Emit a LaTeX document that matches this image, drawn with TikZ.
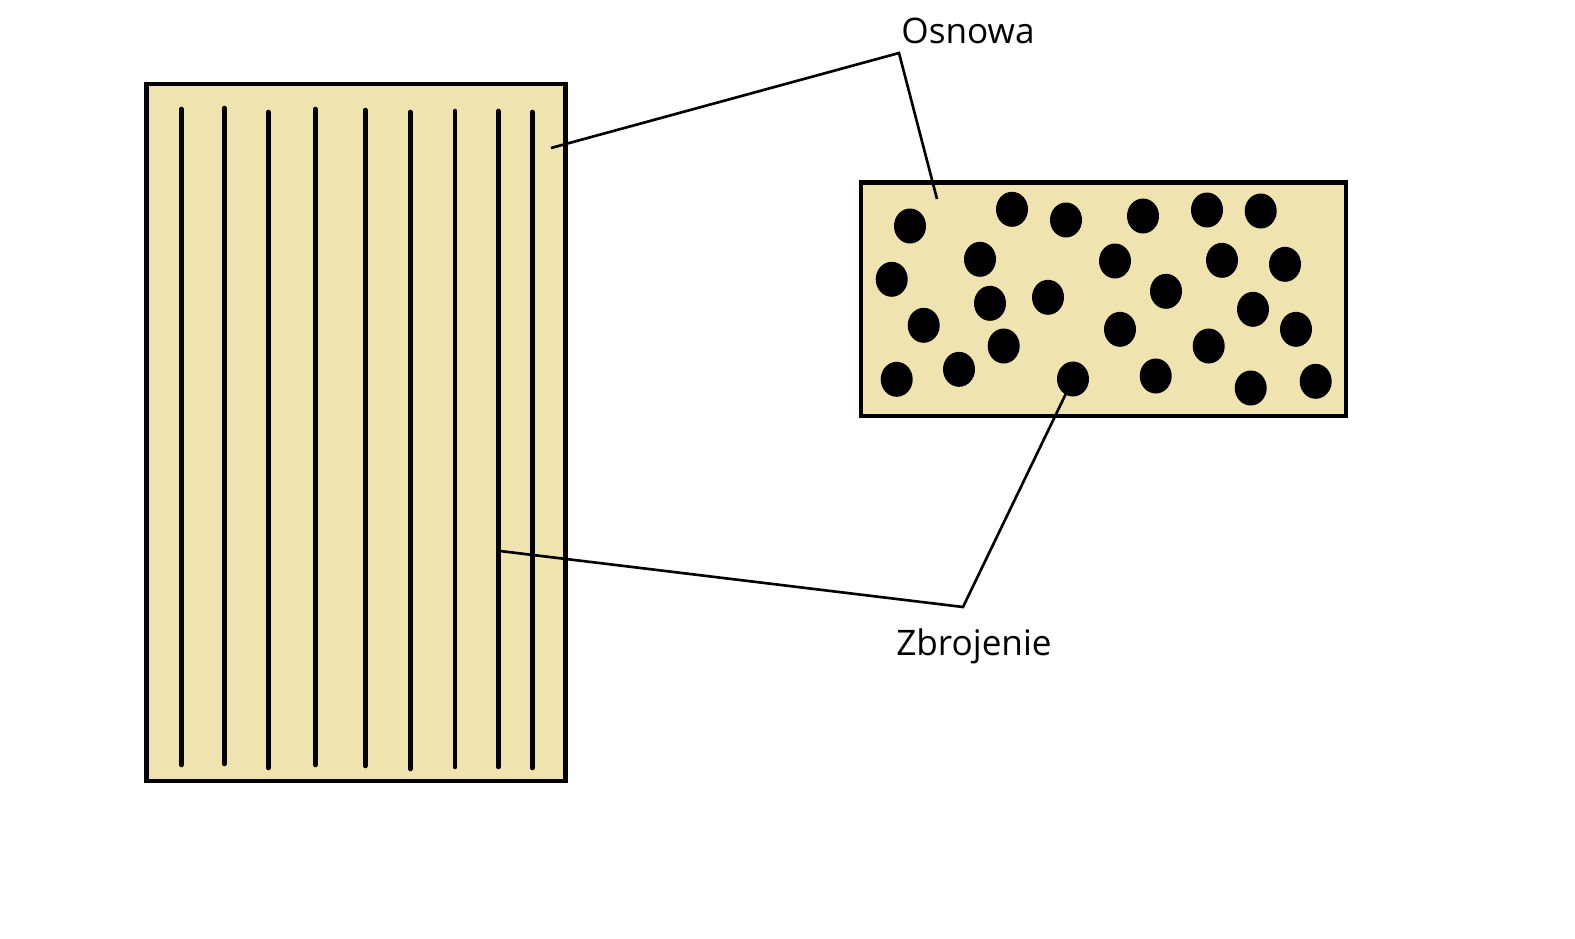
\documentclass[tikz,border=0pt]{standalone}
\usepackage{fontspec}
\setmainfont{Open Sans}
\definecolor{tan}{HTML}{EFE4B0}
\begin{document}
\begin{tikzpicture}[x=0.01cm,y=-0.01cm,
  panel/.style={draw=black,line width=1.3pt,fill=tan},
  fiber/.style={line width=1.3pt,line cap=round},
  callout/.style={line width=0.75pt},
  lbl/.style={font=\fontsize{10pt}{12pt}\selectfont,inner sep=0pt}]
\useasboundingbox (0,0) rectangle (1575,939);
\fill[white] (0,0) rectangle (1575,939);
% left panel (fibres along)
\draw[panel] (146.5,84) rectangle (565.5,781);
\foreach \x/\a/\b [count=\i] in {181.3/109/765,224.3/108/764,268.3/112/768,315.3/109/765,365.3/110/766,410.3/112/769,455/111/767,498.3/111/767,532.3/112/768}{
  \coordinate (ft\i) at (\x,\a);
  \coordinate (fb\i) at (\x,\b);
  \draw[fiber] (ft\i) -- (fb\i);
}
% right panel (cross-section)
\draw[panel] (861,182.5) rectangle (1346,416);
\foreach \x/\y [count=\i] in {910/226,1012/209.3,1066/220,1143/216,1207/210,1260.7/211,891.7/279.3,980/259.3,1115/261,1222/260.3,1285/264.3,990/303.3,1048/297.3,1166/291.3,1253/309.3,923.7/325.3,1003.7/346,1120/329.3,1208.7/346,1296/329.3,896.7/379.3,959/369.3,1073/379,1155.7/376,1250.7/388,1315.7/381.3}{
  \fill (\x,\y) ellipse [x radius=16,y radius=17.5];
  \coordinate (d\i) at (\x,\y);
}
% labels
\node[lbl] (osnowa) at (968,31) {Osnowa};
\node[lbl] (zbrojenie) at (974,646) {Zbrojenie};
\coordinate (ov) at (899,53);
\coordinate (oa) at (551,148);
\coordinate (ob) at (937,199);
\coordinate (zv) at (963,607);
\coordinate (za) at (500,551);
\draw[callout] (oa) -- (ov) -- (ob);
\draw[callout] (za) -- (zv) -- (d23);
\end{tikzpicture}
\end{document}
